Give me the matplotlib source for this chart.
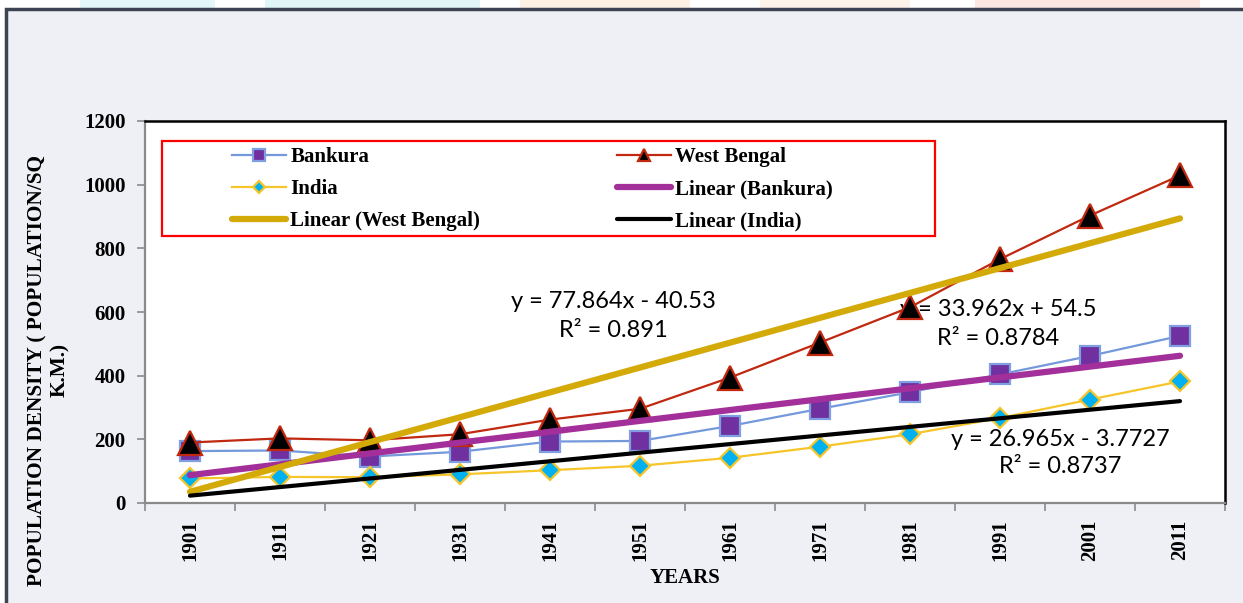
import matplotlib
matplotlib.use("Agg")
import matplotlib.pyplot as plt
from matplotlib.patches import Rectangle
import numpy as np

years = ["1901", "1911", "1921", "1931", "1941", "1951", "1961", "1971", "1981", "1991", "2001", "2011"]
bankura = [163, 165, 146, 161, 193, 195, 242, 296, 348, 404, 462, 525]
west_bengal = [190, 203, 197, 216, 262, 296, 394, 504, 615, 766, 903, 1029]
india = [77, 82, 81, 90, 103, 117, 142, 177, 216, 267, 325, 382]
eq_wb = "y = 77.864x - 40.53\nR² = 0.891"
eq_bk = "y = 33.962x + 54.5\nR² = 0.8784"
eq_in = "y = 26.965x - 3.7727\nR² = 0.8737"
yticks = [0, 200, 400, 600, 800, 1000, 1200]

W, H = 1243, 603
fig = plt.figure(figsize=(W / 100, H / 100), dpi=100)
fig.patch.set_facecolor("white")

def fx(px):
    return px / W

def fy(py):
    return 1 - py / H

# faint watermark blobs at top
for x0, x1, c in [(80, 215, "#e3f6f9"), (265, 480, "#e0f5f8"), (520, 690, "#fdf0e4"),
                  (760, 910, "#fdf2e8"), (975, 1200, "#fce6e2")]:
    fig.add_artist(Rectangle((fx(x0), fy(9)), fx(x1 - x0), 9 / H, transform=fig.transFigure,
                             facecolor=c, edgecolor="none", zorder=0))

# outer frame
fig.add_artist(Rectangle((fx(6), fy(640)), fx(1300), 631 / H, transform=fig.transFigure,
                         facecolor="#eff0f5", edgecolor="#3d4352", linewidth=2.5, zorder=0.5))

ax = fig.add_axes([fx(145), fy(503), fx(1225 - 145), (503 - 121) / H])
ax.set_facecolor("white")
ax.set_zorder(1)

x = np.arange(len(years))
serif = "Liberation Serif"

ax.plot(x, bankura, color="#7499db", lw=1.6, marker="s", ms=15, mfc="#7030a0",
        mec="#7f9fe0", mew=1.6, zorder=3, label="Bankura")
ax.plot(x, west_bengal, color="#c0280f", lw=1.6, marker="^", ms=17, mfc="black",
        mec="#c0280f", mew=1.6, zorder=3, label="West Bengal")
ax.plot(x, india, color="#f5c52a", lw=1.6, marker="D", ms=10.5, mfc="#00b0f0",
        mec="#f5c52a", mew=1.6, zorder=3, label="India")

t = np.arange(1, len(years) + 1)
fits = {}
for name, vals in [("bk", bankura), ("wb", west_bengal), ("in", india)]:
    m, b = np.polyfit(t, vals, 1)
    fits[name] = m * t + b

ax.plot(x, fits["bk"], color="#a3309a", lw=4.5, solid_capstyle="round", zorder=4, label="Linear (Bankura)")
ax.plot(x, fits["wb"], color="#d4aa08", lw=4.5, solid_capstyle="round", zorder=4, label="Linear (West Bengal)")
ax.plot(x, fits["in"], color="black", lw=3, solid_capstyle="round", zorder=4, label="Linear (India)")

ax.set_xlim(-0.5, len(years) - 0.5)
ax.set_ylim(0, 1200)
ax.set_yticks(yticks)
ax.set_yticklabels([str(v) for v in yticks], fontfamily=serif, fontweight="bold", fontsize=15)
ax.set_xticks(x)
ax.set_xticklabels(years, rotation=90, fontfamily=serif, fontweight="bold", fontsize=15)
ax.set_xticks(np.arange(-0.5, len(years)), minor=True)
ax.tick_params(axis="x", which="major", length=0, pad=12)
ax.tick_params(axis="x", which="minor", length=6, color="#8a8a8a", width=1.2)
ax.tick_params(axis="y", length=6, color="#8a8a8a", width=1.2, pad=8)

for s in ["left", "bottom"]:
    ax.spines[s].set_color("#8a8a8a")
    ax.spines[s].set_linewidth(1.6)
for s in ["top", "right"]:
    ax.spines[s].set_color("black")
    ax.spines[s].set_linewidth(1.8)

# equations (below the series markers, above the plot background)
for txt, cx, cy, ls in [(eq_wb, 613, 316, 1.5), (eq_bk, 998, 324, 1.5), (eq_in, 1060, 453, 1.4)]:
    ax.text(fx(cx), fy(cy), txt, transform=fig.transFigure, ha="center", va="center",
            multialignment="center", fontfamily="Lato", fontsize=17, color="black",
            linespacing=ls, zorder=2.5, clip_on=False)

# axis labels
fig.text(fx(49), fy(370), "POPULATION DENSITY ( POPULATION/SQ\nK.M.)", rotation=90,
         ha="center", va="center", multialignment="center", fontfamily=serif,
         fontweight="bold", fontsize=15.3, linespacing=1.15)
fig.text(fx(685), fy(578), "YEARS", ha="center", va="center", fontfamily=serif,
         fontweight="bold", fontsize=15)

# legend
handles, labels = ax.get_legend_handles_labels()
hmap = dict(zip(labels, handles))
leg_kw = dict(frameon=False, prop={"family": serif, "weight": "bold", "size": 15},
              handlelength=2.6, handletextpad=0.2, labelspacing=0.58, markerscale=0.55,
              borderpad=0, borderaxespad=0, loc="center left", bbox_transform=fig.transFigure)
col1 = ["Bankura", "India", "Linear (West Bengal)"]
col2 = ["West Bengal", "Linear (Bankura)", "Linear (India)"]
leg1 = ax.legend([hmap[l] for l in col1], col1, bbox_to_anchor=(fx(232), fy(189)), **leg_kw)
ax.add_artist(leg1)
leg2 = ax.legend([hmap[l] for l in col2], col2, bbox_to_anchor=(fx(617), fy(189)), **leg_kw)
leg1.set_zorder(6)
leg2.set_zorder(6)
ax.add_patch(Rectangle((fx(162), fy(236)), fx(935 - 162), (236 - 141) / H, transform=fig.transFigure,
                       facecolor="none", edgecolor="#ff0000", linewidth=1.6, zorder=6, clip_on=False))

fig.savefig("out.png", dpi=100)
